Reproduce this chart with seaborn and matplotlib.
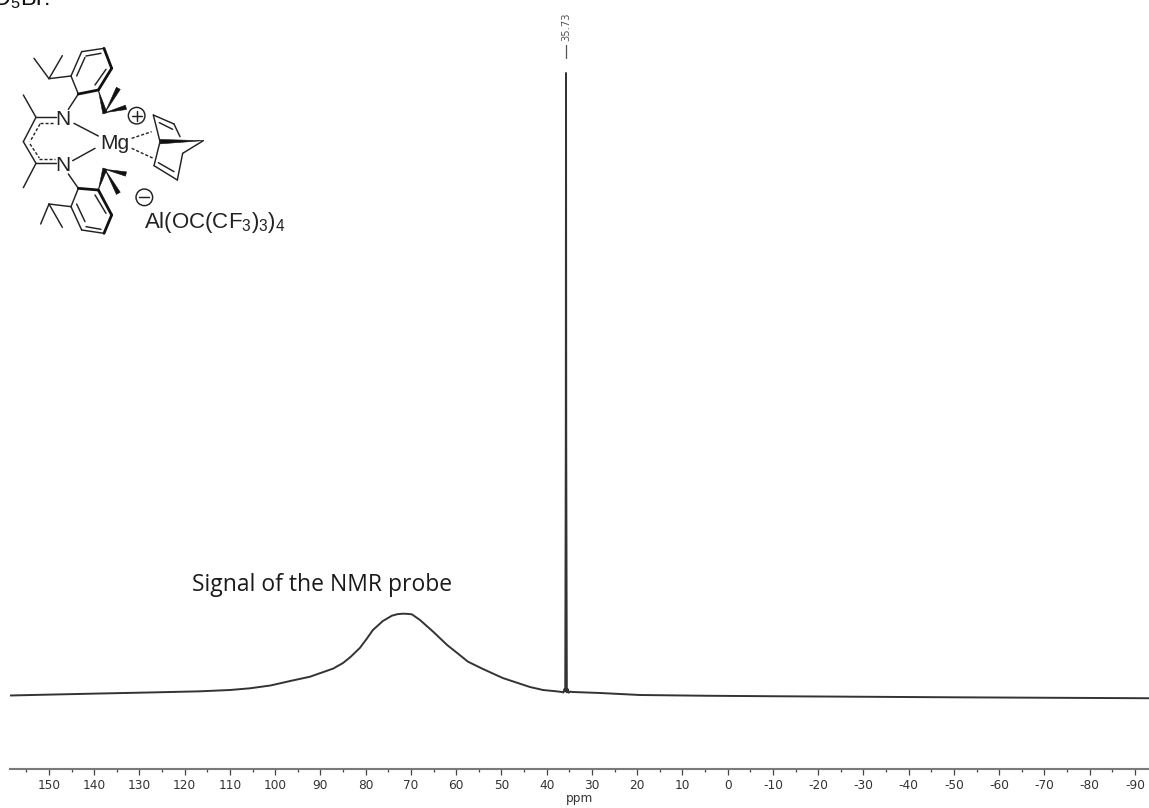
import matplotlib
matplotlib.use('Agg')
import matplotlib.pyplot as plt
import pandas as pd
import seaborn as sns

# spectrum, intensity scaled so the sharp peak is 100
ppm = [158.6, 150.0, 138.7, 128.0, 116.6, 110.0, 105.6, 101.0, 96.7, 92.3, 87.2, 85.0, 83.3, 81.3, 79.8, 78.4, 76.2,
       74.2, 73.0, 71.8, 70.8, 69.8, 68.0, 65.1, 62.0, 59.6, 57.4, 54.1, 49.7, 43.7, 40.8, 38.0, 36.6, 36.3, 36.05,
       35.9, 35.78, 35.73, 35.68, 35.55, 35.4, 35.15, 34.8, 34.2, 28.2, 19.4, 5.0, -10.0, -27.0, -50.0, -70.0, -93.1]
intensity = [0.24, 0.38, 0.56, 0.72, 0.91, 1.12, 1.39, 1.85, 2.56, 3.25, 4.55, 5.45, 6.45, 7.85, 9.3, 10.74, 12.18,
             13.03, 13.27, 13.35, 13.32, 13.25, 12.34, 10.47, 8.33, 6.95, 5.66, 4.49, 3.04, 1.60, 1.12, 0.92, 0.80,
             0.72, 1.30, 0.90, 40.0, 100.0, 40.0, 0.75, 1.30, 0.70, 0.85, 0.80, 0.64, 0.32, 0.20, 0.12, 0.05, -0.05,
             -0.12, -0.20]

major_ticks = [150, 140, 130, 120, 110, 100, 90, 80, 70, 60, 50, 40, 30, 20, 10, 0,
               -10, -20, -30, -40, -50, -60, -70, -80, -90]
minor_ticks = [155, 145, 135, 125, 115, 105, 95, 85, 75, 65, 55, 45, 35, 25, 15, 5,
               -5, -15, -25, -35, -45, -55, -65, -75, -85]
peak_ppm = 35.73
peak_label = '35.73'
probe_label = 'Signal of the NMR probe'

# structure drawing in reference pixels x3
thin_bonds = [
    ((213, 228), (245, 155)), ((245, 155), (312, 145)), ((235, 282), (213, 228)),
    ((230, 228), (255, 172)), ((258, 168), (303, 160)), ((318, 208), (285, 255)),
    ((213, 228), (147, 236)), ((147, 236), (102, 175)), ((147, 236), (187, 167)),
    ((235, 282), (205, 328)),
    ((70, 285), (108, 352)), ((108, 352), (168, 352)), ((108, 352), (70, 425)),
    ((70, 425), (108, 490)), ((108, 490), (168, 490)), ((108, 490), (70, 563)),
    ((222, 370), (295, 408)), ((218, 482), (285, 445)),
    ((205, 522), (235, 565)), ((235, 565), (213, 620)), ((213, 620), (245, 690)),
    ((245, 690), (312, 700)), ((230, 612), (255, 665)), ((258, 680), (303, 688)),
    ((285, 585), (318, 640)),
    ((213, 620), (147, 612)), ((147, 612), (122, 672)), ((147, 612), (187, 682)),
    ((460, 345), (522, 372)), ((522, 372), (540, 410)), ((460, 345), (480, 425)),
    ((480, 425), (462, 497)), ((462, 497), (532, 540)), ((532, 540), (548, 460)),
    ((548, 460), (610, 422)), ((478, 368), (518, 388)), ((475, 488), (522, 515)),
]
bold_bonds = [
    ((312, 145), (335, 205)), ((335, 205), (295, 270)), ((295, 270), (235, 282)),
    ((235, 565), (295, 570)), ((295, 570), (335, 645)), ((335, 645), (312, 700)),
]
# wedges go from the narrow end to the wide end
wedge_bonds = [
    ((295, 270), (315, 340)), ((315, 338), (355, 265)), ((315, 338), (378, 322)),
    ((295, 570), (315, 506)), ((315, 508), (378, 522)), ((315, 508), (355, 580)),
    ((610, 422), (480, 425)),
]
dashed_bonds = [
    ((120, 369), (165, 369)), ((120, 372), (90, 425)), ((90, 432), (118, 474)), ((118, 476), (165, 476)),
    ((395, 415), (455, 395)), ((395, 445), (460, 475)),
]

sns.set_theme(style='white')
plt.rcParams['font.family'] = ['DejaVu Sans']
plt.rcParams['axes.unicode_minus'] = False
plt.rcParams['mathtext.fontset'] = 'custom'
plt.rcParams['mathtext.rm'] = 'Liberation Sans'
plt.rcParams['mathtext.default'] = 'rm'

W, H = 1149, 808
fig = plt.figure(figsize=(W / 100, H / 100), dpi=100, facecolor='white')
ax = fig.add_axes([10 / W, (H - 769) / H, (W - 10) / W, 769 / H])

df = pd.DataFrame({'ppm': ppm, 'intensity': intensity})
sns.lineplot(df, x='ppm', y='intensity', ax=ax, color='#333333', linewidth=1.4, estimator=None, sort=False)

ax.set_xlim(158.6, -93.1)
ax.set_ylim(-11.54, 111.7)
ax.set_yticks([])
ax.set_ylabel('')
for side in ['top', 'left', 'right']:
    ax.spines[side].set_visible(False)
ax.spines['bottom'].set_color('#7a7a7a')
ax.spines['bottom'].set_linewidth(1.5)

ax.set_xticks(major_ticks)
ax.set_xticks(minor_ticks, minor=True)
ax.tick_params(axis='x', which='major', bottom=True, length=4.3, width=0.9, color='#444444',
               labelsize=8.7, labelcolor='#333333', pad=3)
ax.tick_params(axis='x', which='minor', bottom=True, length=2.2, width=0.9, color='#444444')
ax.set_xlabel('ppm', fontsize=8.7, color='#333333', labelpad=0)

# peak label above the sharp line
ax.plot([peak_ppm, peak_ppm], [102.4, 104.5], color='#555555', linewidth=0.9)
ax.text(peak_ppm, 105.1, peak_label, rotation=90, ha='center', va='bottom', fontsize=7.2, color='#555555')

over = fig.add_axes([0, 0, 1, 1])
over.set_xlim(0, W)
over.set_ylim(H, 0)
over.axis('off')
over.patch.set_alpha(0)

over.text(322, 585, probe_label, ha='center', va='center', fontsize=16.5, color='#1a1a1a', family='Open Sans')

for (x0, y0), (x1, y1) in thin_bonds:
    over.plot([x0 / 3, x1 / 3], [y0 / 3, y1 / 3], color='#222222', linewidth=1.05, solid_capstyle='round')
for (x0, y0), (x1, y1) in bold_bonds:
    over.plot([x0 / 3, x1 / 3], [y0 / 3, y1 / 3], color='#111111', linewidth=2.0, solid_capstyle='round')
for (x0, y0), (x1, y1) in wedge_bonds:
    dx, dy = (x1 - x0) / 3, (y1 - y0) / 3
    size = (dx ** 2 + dy ** 2) ** 0.5
    nx, ny = -dy / size * 2.2, dx / size * 2.2
    over.fill([x0 / 3, x1 / 3 + nx, x1 / 3 - nx], [y0 / 3, y1 / 3 + ny, y1 / 3 - ny], color='#111111', linewidth=0.4)
for (x0, y0), (x1, y1) in dashed_bonds:
    over.plot([x0 / 3, x1 / 3], [y0 / 3, y1 / 3], color='#222222', linewidth=1.0, linestyle=(0, (2.2, 1.4)))

arial = 'Liberation Sans'
over.text(190 / 3, 358 / 3, 'N', ha='center', va='center', fontsize=15, color='#222222', family=arial)
over.text(190 / 3, 496 / 3, 'N', ha='center', va='center', fontsize=15, color='#222222', family=arial)
over.text(344 / 3, 430 / 3, 'Mg', ha='center', va='center', fontsize=15, color='#222222', family=arial)
over.text(433 / 3, 685 / 3, r'Al(OC(CF$_3$)$_3$)$_4$', ha='left', va='baseline', fontsize=16, color='#222222',
          family=arial)
over.text(-7, 5, r'D$_5$Br:', ha='left', va='baseline', fontsize=17, color='#111111', family=arial)

for cx, cy, sign in [(410, 347, '+'), (433, 592, '-')]:
    over.add_patch(plt.Circle((cx / 3, cy / 3), 8.3, fill=False, edgecolor='#222222', linewidth=1.05))
    over.plot([cx / 3 - 5, cx / 3 + 5], [cy / 3, cy / 3], color='#222222', linewidth=1.05)
    if sign == '+':
        over.plot([cx / 3, cx / 3], [cy / 3 - 5, cy / 3 + 5], color='#222222', linewidth=1.05)

fig.savefig('out.png', dpi=100)
